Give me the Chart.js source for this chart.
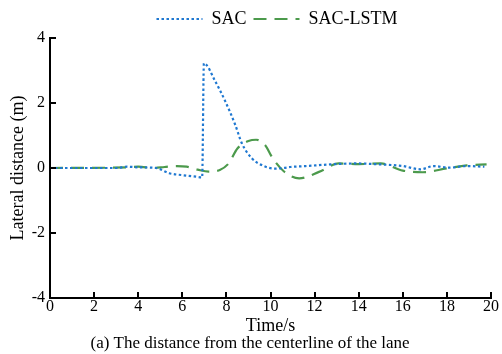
<!DOCTYPE html>
<html>
<head>
<meta charset="utf-8">
<script src="https://cdn.jsdelivr.net/npm/chart.js@4"></script>
<style>
  html, body { margin: 0; padding: 0; background: #fff; }
  #wrap { width: 502px; height: 354px; }
</style>
</head>
<body>
<div id="wrap"><canvas id="chart"></canvas></div>
<script>
const sacTime = [0, 3.0, 3.5, 4.0, 4.8, 5.4, 6.0, 6.65, 6.9, 6.98, 7.5, 7.95, 8.4, 8.7, 9.15, 9.6, 10.2, 10.6, 10.9, 11.6, 12.7, 13.9, 15.0, 16.0, 16.8, 17.4, 18.1, 18.9, 19.7];
const sacValue = [0, 0, 0.04, 0.02, 0, -0.16, -0.22, -0.27, -0.29, 3.22, 2.66, 2.05, 1.33, 0.76, 0.3, 0.09, -0.02, 0.0, 0.03, 0.06, 0.11, 0.14, 0.11, 0.06, -0.04, 0.06, 0.01, 0.06, 0.04];

const lstmTime = [0, 3.5, 4.0, 4.7, 5.2, 5.75, 6.2, 6.7, 7.2, 7.7, 8.1, 8.5, 9.0, 9.35, 9.75, 10.1, 10.6, 11.3, 12.2, 13.1, 14.0, 15.0, 16.0, 16.9, 18.0, 18.9, 19.8];
const lstmValue = [0, 0.02, 0.04, 0, 0.03, 0.06, 0.04, -0.05, -0.11, -0.06, 0.14, 0.6, 0.83, 0.87, 0.71, 0.3, -0.1, -0.32, -0.12, 0.14, 0.12, 0.14, -0.08, -0.13, -0.01, 0.08, 0.11];

const xTicks = [0, 2, 4, 6, 8, 10, 12, 14, 16, 18, 20];
const yTicks = [-4, -2, 0, 2, 4];

const serif = "'Liberation Serif', 'DejaVu Serif', serif";
const toPoints = (xs, ys) => xs.map((x, i) => ({ x, y: ys[i] }));

// short tick marks pointing into the plot area
const innerTicks = {
  id: "innerTicks",
  afterDraw(chart) {
    const { ctx, chartArea, scales } = chart;
    ctx.save();
    ctx.strokeStyle = "#000";
    ctx.lineWidth = 2;
    ctx.beginPath();
    xTicks.forEach(v => {
      const px = Math.round(scales.x.getPixelForValue(v));
      ctx.moveTo(px, chartArea.bottom);
      ctx.lineTo(px, chartArea.bottom - 6);
    });
    yTicks.forEach(v => {
      const py = Math.round(scales.y.getPixelForValue(v));
      ctx.moveTo(chartArea.left, py);
      ctx.lineTo(chartArea.left + 6, py);
    });
    ctx.stroke();
    ctx.restore();
  },
};

// legend sits a little right of centre
const legendShift = {
  id: "legendShift",
  afterLayout(chart) {
    chart.legend.left += 27;
    chart.legend.right += 27;
  },
};

new Chart(document.getElementById("chart"), {
  type: "line",
  plugins: [innerTicks, legendShift],
  data: {
    datasets: [
      {
        label: "SAC",
        data: toPoints(sacTime, sacValue),
        borderColor: "#1f78d1",
        borderWidth: 2.2,
        borderDash: [2.5, 2.5],
        pointRadius: 0,
        cubicInterpolationMode: "monotone",
      },
      {
        label: "SAC-LSTM",
        data: toPoints(lstmTime, lstmValue),
        borderColor: "#4c9a4c",
        borderWidth: 2.2,
        borderDash: [13, 8],
        pointRadius: 0,
        cubicInterpolationMode: "monotone",
      },
    ],
  },
  options: {
    responsive: true,
    maintainAspectRatio: false,
    animation: false,
    layout: { padding: { left: 9, right: 11, top: 3, bottom: 2 } },
    plugins: {
      tooltip: { enabled: false },
      legend: {
        position: "top",
        labels: {
          usePointStyle: true,
          pointStyle: "line",
          pointStyleWidth: 46,
          boxHeight: 10,
          color: "#000",
          padding: 7,
          font: { family: serif, size: 18 },
          generateLabels: chart => chart.data.datasets.map((ds, i) => ({
            text: ds.label,
            datasetIndex: i,
            fillStyle: ds.borderColor,
            strokeStyle: ds.borderColor,
            fontColor: "#000",
            lineWidth: 2,
            lineDash: ds.borderDash,
            pointStyle: "line",
          })),
        },
      },
      title: {
        display: true,
        position: "bottom",
        text: "(a) The distance from the centerline of the lane",
        color: "#000",
        font: { family: serif, size: 17, weight: "normal", lineHeight: 1 },
        padding: { top: 0, bottom: 0 },
      },
    },
    scales: {
      x: {
        type: "linear",
        min: 0,
        max: 20,
        afterBuildTicks: s => { s.ticks = xTicks.map(value => ({ value })); },
        grid: { display: false, drawTicks: false },
        border: { display: true, color: "#000", width: 2 },
        ticks: { color: "#000", padding: 1, font: { family: serif, size: 16, lineHeight: 1 } },
        title: {
          display: true,
          text: "Time/s",
          color: "#000",
          padding: { top: 1, bottom: 0 },
          font: { family: serif, size: 18, lineHeight: 1 },
        },
      },
      y: {
        min: -4,
        max: 4,
        afterBuildTicks: s => { s.ticks = yTicks.map(value => ({ value })); },
        afterFit: s => { s.width = 41; },
        grid: { display: false, drawTicks: false },
        border: { display: true, color: "#000", width: 2 },
        ticks: { color: "#000", padding: 5, font: { family: serif, size: 16, lineHeight: 1 } },
        title: {
          display: true,
          text: "Lateral distance (m)",
          color: "#000",
          padding: { top: 0, bottom: 0 },
          font: { family: serif, size: 18, lineHeight: 1 },
        },
      },
    },
  },
});
</script>
</body>
</html>
